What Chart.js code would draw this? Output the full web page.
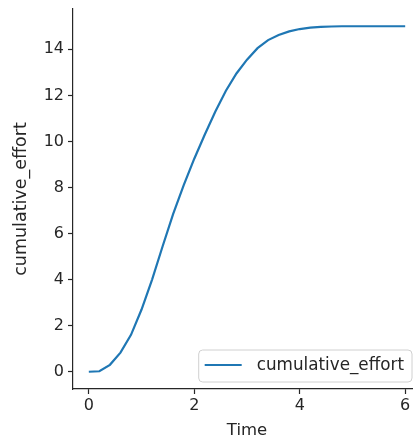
<!DOCTYPE html>
<html>
<head>
<meta charset="utf-8">
<script src="https://cdn.jsdelivr.net/npm/chart.js@4.4.0/dist/chart.umd.min.js"></script>
<style>
  html, body { margin: 0; padding: 0; background: #fff; overflow: hidden; }
  #wrap { width: 430px; height: 441px; }
</style>
</head>
<body>
<div id="wrap"><canvas id="c" width="430" height="441"></canvas></div>
<script>
// Data
const times  = [0, 0.2, 0.4, 0.6, 0.8, 1.0, 1.2, 1.4, 1.6, 1.8, 2.0, 2.2, 2.4, 2.6, 2.8, 3.0,
                3.2, 3.4, 3.6, 3.8, 4.0, 4.2, 4.4, 4.6, 4.8, 5.0, 5.2, 5.4, 5.6, 5.8, 6.0];
const effort = [0, 0.02, 0.3, 0.83, 1.6, 2.7, 4.0, 5.45, 6.85, 8.1, 9.25, 10.3, 11.3, 12.2, 12.95, 13.55,
                14.05, 14.4, 14.62, 14.78, 14.88, 14.94, 14.97, 14.99, 15.0, 15.0, 15.0, 15.0, 15.0, 15.0, 15.0];
const xTicks = [0, 2, 4, 6];
const yTicks = [0, 2, 4, 6, 8, 10, 12, 14];
const seriesLabel = 'cumulative_effort';
const xLabel = 'Time';
const yLabel = 'cumulative_effort';

const FONT = 'DejaVu Sans';
const TXT = '#262626';
const LINE = '#1f77b4';

const legendPlugin = {
  id: 'mplLegend',
  afterDraw(chart) {
    const ctx = chart.ctx;
    const ca = chart.chartArea;
    const ds = chart.data.datasets[0];
    ctx.save();
    ctx.font = '16.8px "' + FONT + '"';
    const tw = ctx.measureText(ds.label).width;
    const padL = 6, handle = 37, gap = 15, padR = 8;
    const w = padL + handle + gap + tw + padR;
    const h = 32;
    const right = ca.right - 9;
    const bottom = ca.bottom - 7;
    const left = right - w, top = bottom - h;
    const r = 4;
    ctx.beginPath();
    ctx.moveTo(left + r, top);
    ctx.lineTo(right - r, top);
    ctx.arcTo(right, top, right, top + r, r);
    ctx.lineTo(right, bottom - r);
    ctx.arcTo(right, bottom, right - r, bottom, r);
    ctx.lineTo(left + r, bottom);
    ctx.arcTo(left, bottom, left, bottom - r, r);
    ctx.lineTo(left, top + r);
    ctx.arcTo(left, top, left + r, top, r);
    ctx.closePath();
    ctx.fillStyle = 'rgba(255,255,255,0.8)';
    ctx.fill();
    ctx.strokeStyle = '#d0d0d0';
    ctx.lineWidth = 1;
    ctx.stroke();
    const cy = top + h / 2;
    ctx.beginPath();
    ctx.moveTo(left + padL, cy - 1);
    ctx.lineTo(left + padL + handle, cy - 1);
    ctx.strokeStyle = ds.borderColor;
    ctx.lineWidth = ds.borderWidth;
    ctx.stroke();
    ctx.fillStyle = TXT;
    ctx.textBaseline = 'middle';
    ctx.textAlign = 'left';
    ctx.fillText(ds.label, left + padL + handle + gap, cy);
    ctx.restore();
  }
};

new Chart(document.getElementById('c'), {
  type: 'line',
  data: {
    datasets: [{
      label: seriesLabel,
      data: times.map((t, i) => ({ x: t, y: effort[i] })),
      borderColor: LINE,
      borderWidth: 2.2,
      pointRadius: 0,
      tension: 0,
      fill: false
    }]
  },
  options: {
    responsive: false,
    animation: false,
    devicePixelRatio: 1,
    layout: { padding: { top: 9, right: 9, left: 0, bottom: 0 } },
    plugins: { legend: { display: false }, tooltip: { enabled: false } },
    scales: {
      x: {
        type: 'linear',
        min: -0.3, max: 6.3,
        afterBuildTicks(s) { s.ticks = xTicks.map(v => ({ value: v })); },
        afterFit(s) { s.height = 52; s.paddingLeft = 0; s.paddingRight = 0; },
        grid: { drawOnChartArea: false, tickLength: 5, tickWidth: 1.2, tickColor: TXT },
        border: { display: true, color: TXT, width: 1.2 },
        ticks: { color: TXT, font: { family: FONT, size: 16 }, padding: 2, maxRotation: 0 },
        title: { display: true, text: xLabel, color: TXT, font: { family: FONT, size: 16.5 }, padding: { top: 0, bottom: 0 } }
      },
      y: {
        type: 'linear',
        min: -0.75, max: 15.75,
        afterBuildTicks(s) { s.ticks = yTicks.map(v => ({ value: v })); },
        afterFit(s) { s.width = 73; s.paddingTop = 0; s.paddingBottom = 0; },
        grid: { drawOnChartArea: false, tickLength: 5, tickWidth: 1.2, tickColor: TXT },
        border: { display: true, color: TXT, width: 1.2 },
        ticks: { color: TXT, font: { family: FONT, size: 16 }, padding: 4 },
        title: { display: true, text: yLabel, color: TXT, font: { family: FONT, size: 17.5 }, padding: { top: 11, bottom: 0 } }
      }
    }
  },
  plugins: [legendPlugin]
});
</script>
</body>
</html>
